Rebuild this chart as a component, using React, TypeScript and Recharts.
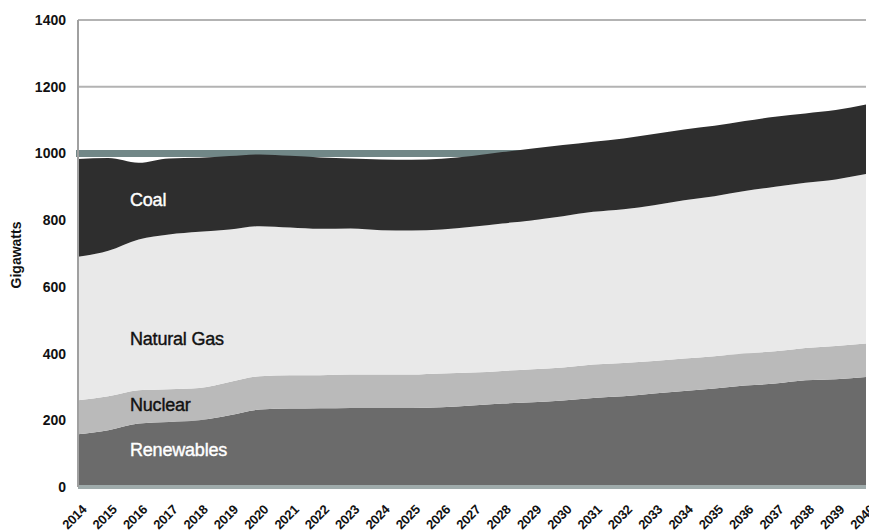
import React from "react";
import { AreaChart, Area, XAxis, YAxis, CartesianGrid, Label } from "recharts";

const years = [
  "2014", "2015", "2016", "2017", "2018", "2019", "2020", "2021", "2022",
  "2023", "2024", "2025", "2026", "2027", "2028", "2029", "2030", "2031",
  "2032", "2033", "2034", "2035", "2036", "2037", "2038", "2039", "2040",
];
const renewables = [158, 170, 190, 195, 200, 215, 232, 235, 236, 237, 237, 237, 239, 244, 250, 254, 259, 267, 272, 280, 288, 295, 304, 310, 320, 323, 330];
const nuclear = [102, 102, 100, 98, 97, 100, 100, 100, 99, 100, 100, 100, 101, 99, 98, 99, 99, 100, 100, 98, 97, 97, 96, 97, 97, 100, 100];
const naturalGas = [430, 436, 452, 464, 468, 457, 450, 443, 439, 438, 433, 432, 432, 437, 442, 447, 454, 458, 461, 467, 475, 480, 487, 493, 495, 499, 508];
const coal = [293, 278, 230, 228, 222, 220, 215, 215, 214, 210, 212, 212, 212, 212, 214, 215, 213, 210, 212, 213, 212, 211, 210, 210, 208, 208, 209];
const yTicks = [0, 200, 400, 600, 800, 1000, 1200, 1400];

const data = years.map((y, i) => ({
  year: y,
  Renewables: renewables[i],
  Nuclear: nuclear[i],
  "Natural Gas": naturalGas[i],
  Coal: coal[i],
}));

const font = "'Liberation Sans', Arial, Helvetica, sans-serif";

// rotated year labels, right end sits just under the tick
const XTick = (props: any) => {
  const { x, y, payload } = props;
  const ax = x + 3;
  const ay = y + 9;
  return (
    <text x={ax} y={ay} transform={`rotate(-45 ${ax} ${ay})`} textAnchor="end" dy="0.7em"
      fontFamily={font} fontWeight="bold" fontSize={13} letterSpacing={-0.3} fill="#111">
      {payload.value}
    </text>
  );
};

// the 1000 gridline is drawn as a thick grey-green band in the original
const gridLine = (p: any) => {
  const is1000 = p.index === 5;
  return (
    <line key={p.key} x1={is1000 ? p.x1 - 2 : p.x1} x2={p.x2} y1={p.y1} y2={p.y2}
      stroke={is1000 ? "#718787" : "#b3b3b3"} strokeWidth={is1000 ? 7 : 2} />
  );
};

const areaLabel = (text: string, top: number, color: string) => (
  <div style={{ position: "absolute", left: 130, top: top, color: color, fontFamily: font,
    fontSize: 18, letterSpacing: -0.2, lineHeight: "18px", whiteSpace: "nowrap",
    WebkitTextStroke: `0.4px ${color}` }}>
    {text}
  </div>
);

export default function App() {
  return (
    <div style={{ position: "absolute", left: 0, top: 0, width: 869, height: 532, background: "#fff" }}>
      <AreaChart width={869} height={532} data={data} margin={{ top: 20, right: 3, left: 0, bottom: 0 }}>
        <CartesianGrid vertical={false} horizontal={gridLine} />
        <XAxis dataKey="year" height={45} tickLine={false} interval={0}
          axisLine={{ stroke: "#9fabab", strokeWidth: 4 }} tick={<XTick />} />
        <YAxis width={78} domain={[0, 1400]} ticks={yTicks} tickLine={false} tickMargin={6}
          axisLine={{ stroke: "#a0a0a0", strokeWidth: 2 }}
          tick={{ fontFamily: font, fontWeight: "bold", fontSize: 14, fill: "#111" }}>
          <Label position="center" content={() => (
            <text x={21} y={255} transform="rotate(-90 21 255)" textAnchor="middle"
              fontFamily={font} fontWeight="bold" fontSize={14} fill="#111">Gigawatts</text>
          )} />
        </YAxis>
        <Area type="monotone" dataKey="Renewables" stackId="1" stroke="none" fill="#6b6b6b" fillOpacity={1} isAnimationActive={false} />
        <Area type="monotone" dataKey="Nuclear" stackId="1" stroke="none" fill="#bababa" fillOpacity={1} isAnimationActive={false} />
        <Area type="monotone" dataKey="Natural Gas" stackId="1" stroke="none" fill="#e9e9e9" fillOpacity={1} isAnimationActive={false} />
        <Area type="monotone" dataKey="Coal" stackId="1" stroke="none" fill="#2e2e2e" fillOpacity={1} isAnimationActive={false} />
      </AreaChart>
      {areaLabel("Coal", 191, "#fff")}
      {areaLabel("Natural Gas", 330, "#111")}
      {areaLabel("Nuclear", 396, "#111")}
      {areaLabel("Renewables", 441, "#fff")}
    </div>
  );
}
